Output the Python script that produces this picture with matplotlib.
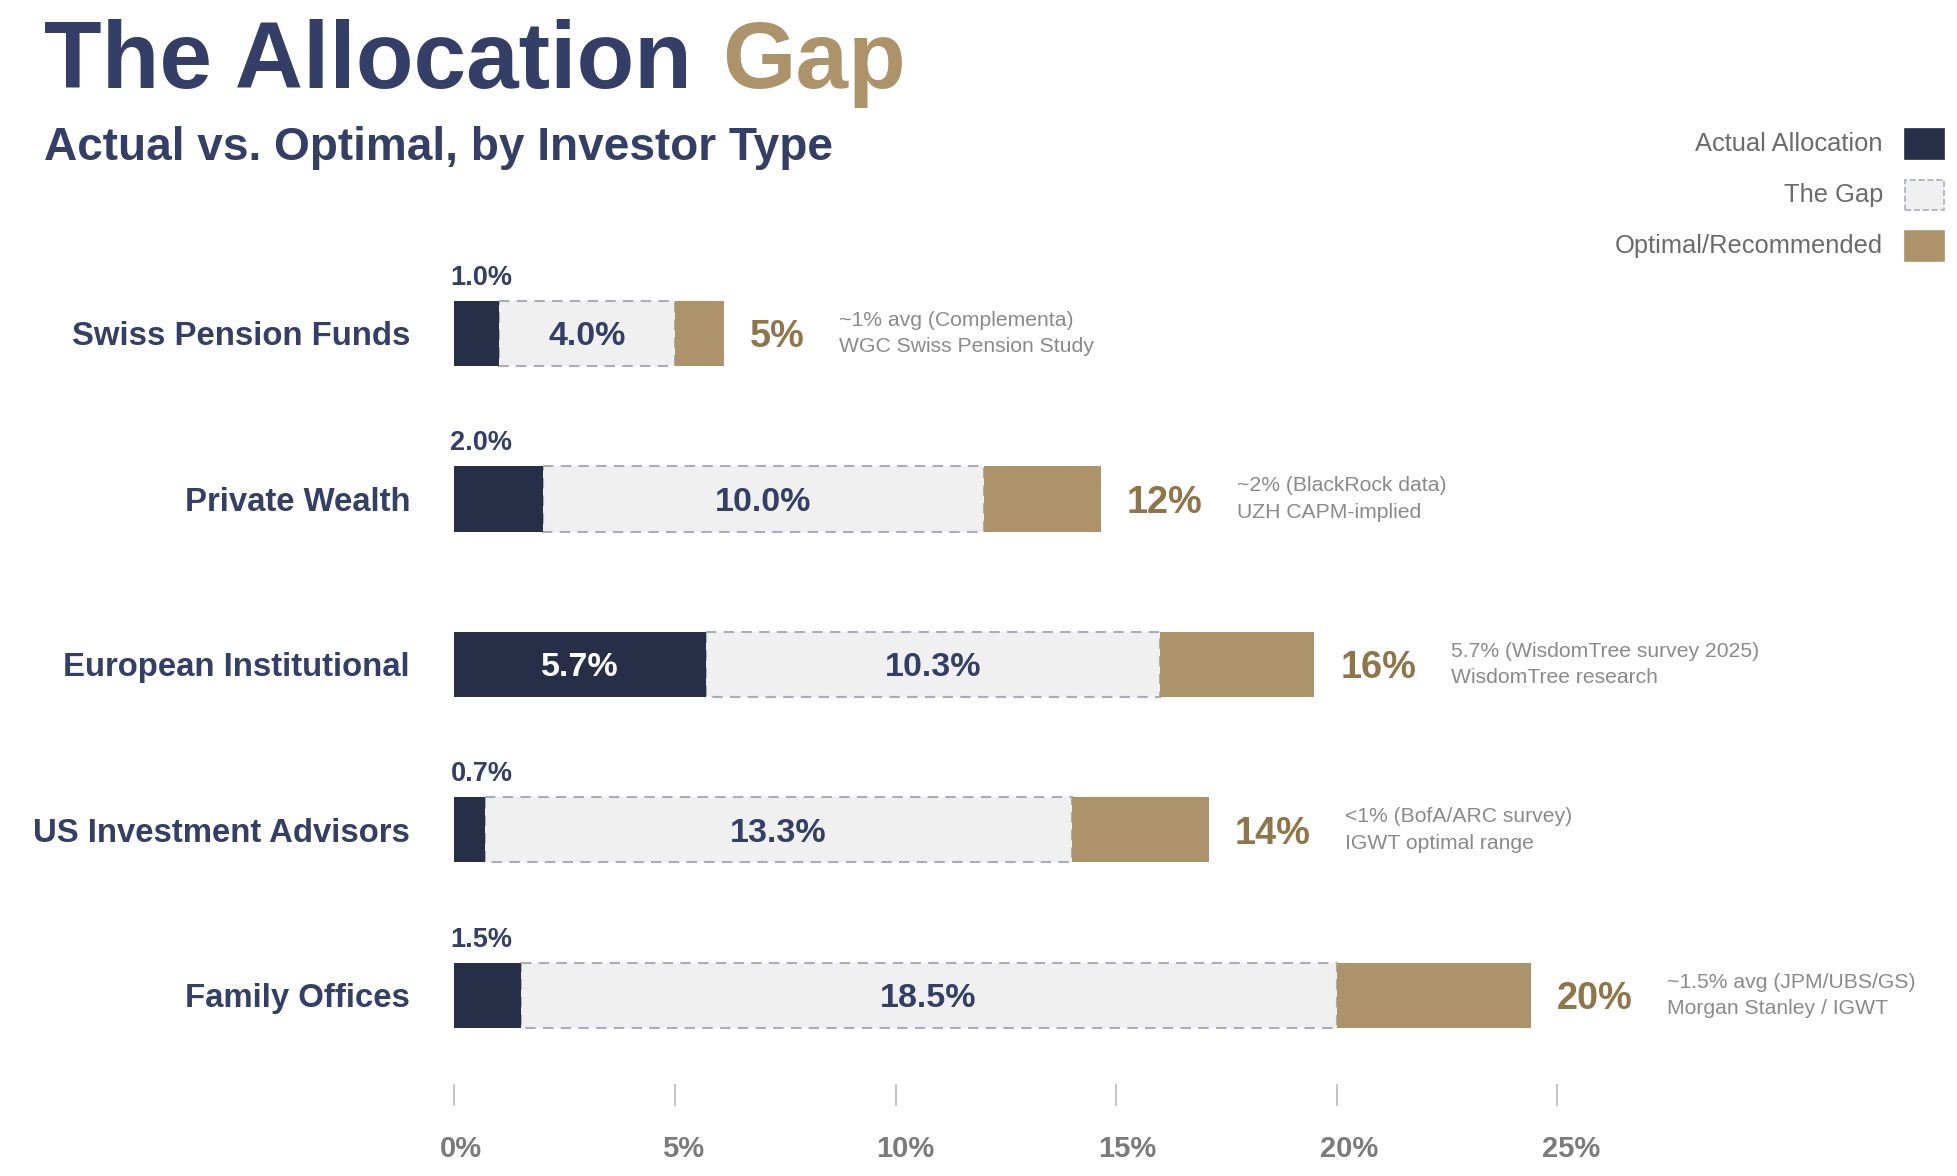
import matplotlib
matplotlib.use("Agg")
import matplotlib.pyplot as plt
from matplotlib.patches import Rectangle

plt.rcParams['font.family'] = ['Liberation Sans', 'DejaVu Sans']

# data
investors = ['Swiss Pension Funds', 'Private Wealth', 'European Institutional',
             'US Investment Advisors', 'Family Offices']
actual = [1.0, 2.0, 5.7, 0.7, 1.5]
optimal = [5, 12, 16, 14, 20]
tan_extent = [1.1, 2.65, 3.5, 3.1, 4.4]   # width of the gold block beyond optimal
notes = ['~1% avg (Complementa)\nWGC Swiss Pension Study',
         '~2% (BlackRock data)\nUZH CAPM-implied',
         '5.7% (WisdomTree survey 2025)\nWisdomTree research',
         '<1% (BofA/ARC survey)\nIGWT optimal range',
         '~1.5% avg (JPM/UBS/GS)\nMorgan Stanley / IGWT']
xticks = [0, 5, 10, 15, 20, 25]

# colours
NAVY_BAR = '#262e48'
NAVY_TXT = '#343f68'
GOLD_BAR = '#ac9369'
GOLD_TXT = '#8f7548'
GAP_FILL = '#f0f0f0'
GAP_EDGE = '#a9adb8'
GREY_NOTE = '#8a8a8a'
GREY_LEG = '#6b6b6b'
GREY_TICK = '#7b7b7b'

W, H = 1958, 1176
fig = plt.figure(figsize=(W / 100, H / 100), dpi=100)
fig.patch.set_facecolor('white')


def fx(px):
    return px / W


def fy(py):
    return 1 - py / H


# title, two colours
t1 = fig.text(fx(44), fy(88), 'The Allocation', fontsize=68, fontweight='bold',
              color=NAVY_TXT, ha='left', va='baseline')
fig.add_artist(plt.Annotation('Gap', xy=(1, 0), xycoords=t1, xytext=(30, 0),
                              textcoords='offset pixels', fontsize=68,
                              fontweight='bold', color=GOLD_BAR,
                              ha='left', va='bottom'))
fig.text(fx(44), fy(160), 'Actual vs. Optimal, by Investor Type', fontsize=33.1,
         fontweight='bold', color=NAVY_TXT, ha='left', va='baseline')

# legend (manual, text right-aligned left of swatch)
leg_items = [('Actual Allocation', NAVY_BAR, NAVY_BAR, '-'),
             ('The Gap', GAP_FILL, GAP_EDGE, '--'),
             ('Optimal/Recommended', GOLD_BAR, GOLD_BAR, '-')]
for i, (lab, fc, ec, ls) in enumerate(leg_items):
    cy = 144 + 51 * i
    fig.patches.append(Rectangle((fx(1905), fy(cy + 15)), 39 / W, 30 / H,
                                 facecolor=fc, edgecolor=ec, linestyle=ls,
                                 linewidth=1.2, transform=fig.transFigure, figure=fig))
    fig.text(fx(1883), fy(cy), lab, fontsize=18.4, color=GREY_LEG, ha='right', va='center')

# main axes: x 0..25 maps to px 454.5..1557, rows centred at 333.5 + 165.5*i
ax = fig.add_axes([fx(454.5), fy(1084), (1557 - 454.5) / W, (1084 - 250) / H])
ax.set_xlim(0, 25)
ax.set_ylim(4.535, -0.5045)
for s in ax.spines.values():
    s.set_visible(False)
ax.patch.set_alpha(0)

ys = list(range(len(investors)))
bh = 0.393
gap = [o - a for o, a in zip(optimal, actual)]

ax.barh(ys, gap, left=actual, height=bh, color=GAP_FILL, edgecolor=GAP_EDGE,
        linestyle=(0, (5, 3.5)), linewidth=1.5, zorder=2)
ax.barh(ys, actual, height=bh, color=NAVY_BAR, linewidth=0, zorder=3)
ax.barh(ys, tan_extent, left=optimal, height=bh, color=GOLD_BAR, linewidth=0, zorder=3)

for y, a, g, o, t, note in zip(ys, actual, gap, optimal, tan_extent, notes):
    # actual value
    if a >= 3:
        ax.text(a / 2, y, f'{a:.1f}%', color='white', fontsize=24.5, fontweight='bold',
                ha='center', va='center_baseline', zorder=4)
    else:
        ax.annotate(f'{a:.1f}%', xy=(0, y - bh / 2), xytext=(-4, 16),
                    textcoords='offset pixels', color=NAVY_TXT, fontsize=19.5,
                    fontweight='bold', ha='left', va='baseline')
    # gap value
    ax.text(a + g / 2, y, f'{g:.1f}%', color=NAVY_TXT, fontsize=24.5, fontweight='bold',
            ha='center', va='center_baseline', zorder=4)
    # optimal value
    ot = ax.annotate(f'{o}%', xy=(o + t, y), xytext=(26, 0), textcoords='offset pixels',
                     color=GOLD_TXT, fontsize=27.3, fontweight='bold',
                     ha='left', va='center_baseline')
    ax.annotate(note, xy=(1, 0.5), xycoords=ot, xytext=(35, 4),
                textcoords='offset pixels', color=GREY_NOTE, fontsize=15.2,
                ha='left', va='center', linespacing=1.5)

# y labels
ax.set_yticks(ys)
ax.set_yticklabels(investors, fontsize=23.7, fontweight='bold', color=NAVY_TXT)
ax.tick_params(axis='y', length=0, pad=32)

# x ticks drawn as marks, labels placed separately (slightly right of the marks)
ax.set_xticks(xticks)
ax.set_xticklabels([])
ax.tick_params(axis='x', length=15.8, width=1.1, color='#b5b5b5', direction='out')
for v in xticks:
    ax.annotate(f'{v}%', xy=(v, 0), xycoords=ax.get_xaxis_transform(),
                xytext=(6.5 + 0.3 * v, -65), textcoords='offset pixels', color=GREY_TICK,
                fontsize=21, fontweight='bold', ha='center', va='center')

fig.savefig('out.png', dpi=100)
